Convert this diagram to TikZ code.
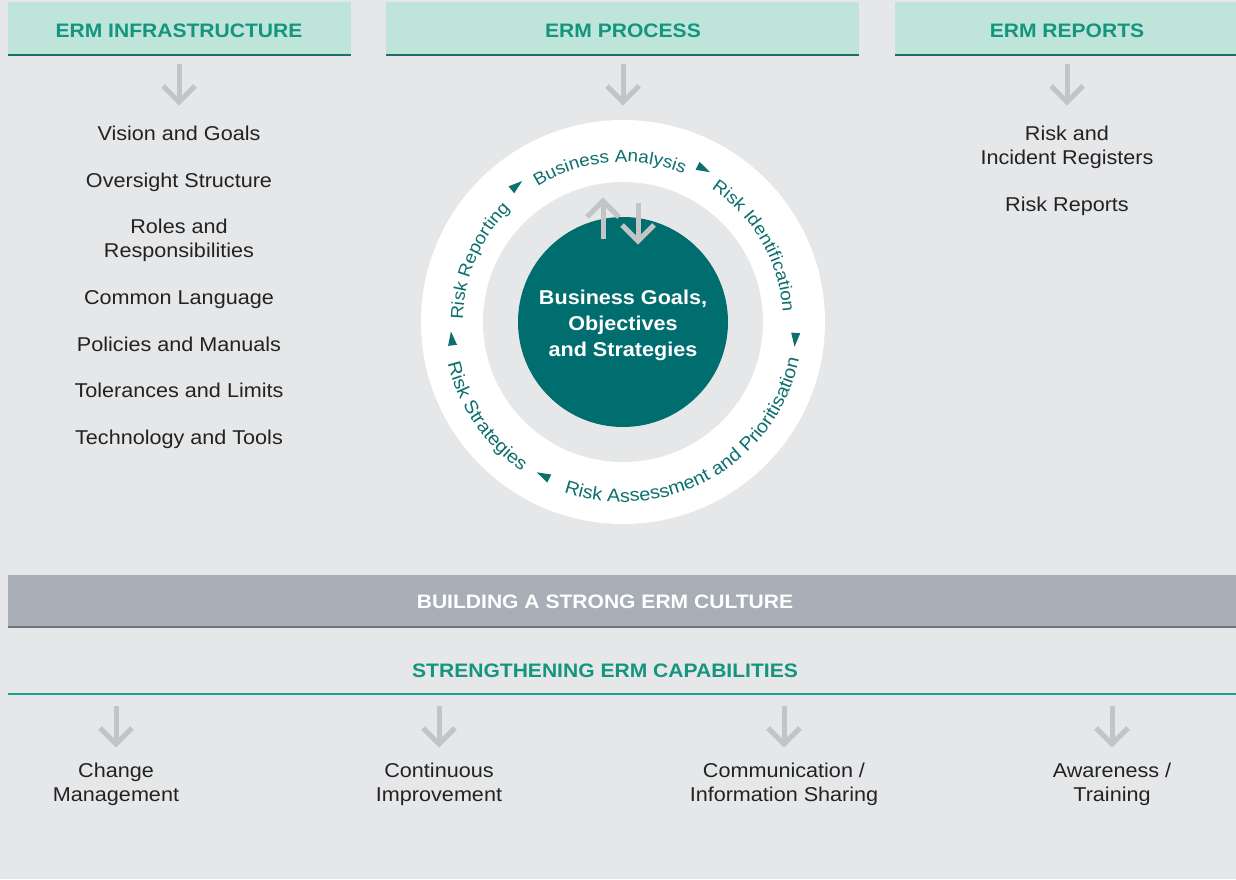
\documentclass[tikz,border=0pt]{standalone}
\usepackage{fontspec}
\setmainfont{Liberation Sans}[FakeStretch=1.08]
\usetikzlibrary{decorations.text,shapes.geometric}
\definecolor{bg}{HTML}{E6E7E9}
\definecolor{mint}{HTML}{BFE4DA}
\definecolor{hteal}{HTML}{13957F}
\definecolor{lineteal}{HTML}{1D6E69}
\definecolor{dteal}{HTML}{006E6E}
\definecolor{rteal}{HTML}{0E6F6F}
\definecolor{agray}{HTML}{C3C4C6}
\definecolor{band}{HTML}{A7AEB5}
\definecolor{bandline}{HTML}{6F757B}
\definecolor{txt}{HTML}{222222}
\definecolor{capline}{HTML}{18A08F}
\newcommand\ringfont{\fontsize{17.5}{20}\selectfont\color{rteal}}
\newcommand\ringfontb{\fontsize{18.4}{20}\selectfont\color{rteal}}
\tikzset{
  hdr/.style={font=\fontsize{19.5}{22}\selectfont\bfseries, text=hteal, inner sep=0pt},
  item/.style={font=\fontsize{20}{24}\selectfont, text=txt, align=center, inner sep=0pt},
  ctext/.style={font=\fontsize{20}{26}\selectfont\bfseries, text=white, align=center, inner sep=0pt},
  bandtext/.style={font=\fontsize{19.5}{22}\selectfont\bfseries, text=white, inner sep=0pt},
  tri/.style={isosceles triangle, isosceles triangle stretches, fill=rteal, inner sep=0pt,
              minimum width=9pt, minimum height=14pt},
  darrow/.pic={
    \draw[agray, line width=5pt] (0,0) -- (0,-38);
    \draw[agray, line width=5pt, line join=miter] (-16,-22) -- (0,-38) -- (16,-22);
  },
  ringtext/.style={decorate, decoration={text along path, text align=center, text={|\ringfont|#1}}},
  ringtextb/.style={decorate, decoration={text along path, text align=center, text={|\ringfontb|#1}}}
}
\begin{document}
\begin{tikzpicture}[x=1pt,y=1pt]
\useasboundingbox (0,0) rectangle (1236,-879);
\fill[bg] (0,0) rectangle (1236,-879);

% headers
\fill[mint] (8,-2) rectangle (351,-55);
\draw[lineteal, line width=1.5pt] (8,-55) -- (351,-55);
\fill[mint] (386,-2) rectangle (859,-55);
\draw[lineteal, line width=1.5pt] (386,-55) -- (859,-55);
\fill[mint] (895,-2) rectangle (1236,-55);
\draw[lineteal, line width=1.5pt] (895,-55) -- (1236,-55);
\node[hdr] (h1) at (179,-31) {ERM INFRASTRUCTURE};
\node[hdr] (h2) at (623,-31) {ERM PROCESS};
\node[hdr] (h3) at (1067,-31) {ERM REPORTS};

% top arrows
\pic at (179,-64) {darrow};
\pic at (623,-64) {darrow};
\pic at (1067,-64) {darrow};

% left list
\node[item] (i1) at (179,-133) {Vision and Goals};
\node[item] (i2) at (179,-182) {Oversight Structure};
\node[item] (i3) at (179,-240) {Roles and\\Responsibilities};
\node[item] (i4) at (179,-300) {Common Language};
\node[item] (i5) at (179,-344) {Policies and Manuals};
\node[item] (i6) at (179,-390) {Tolerances and Limits};
\node[item] (i7) at (179,-439) {Technology and Tools};

% right list
\node[item] (r1) at (1067,-147) {Risk and\\Incident Registers};
\node[item] (r2) at (1067,-206) {Risk Reports};

% process circle
\coordinate (C) at (623,-322);
\fill[white] (C) circle[radius=202pt];
\fill[bg] (C) circle[radius=140pt];
\fill[dteal] (C) circle[radius=105pt];
\node[ctext] (core) at (623,-325) {Business Goals,\\Objectives\\and Strategies};

\pic[rotate=180] at (603,-239) {darrow};
\pic at (638,-203) {darrow};

% ring texts
\path[ringtext={Risk Reporting}] ([shift={(C)}]192:160pt) arc[start angle=192, end angle=122, radius=160pt];
\path[ringtext={Business Analysis}] ([shift={(C)}]135:160pt) arc[start angle=135, end angle=55, radius=160pt];
\path[ringtext={Risk Identification}] ([shift={(C)}]70:160pt) arc[start angle=70, end angle=-10, radius=160pt];
\path[ringtextb={Risk Assessment and Prioritisation}] ([shift={(C)}]230:180pt) arc[start angle=230, end angle=369, radius=180pt];
\path[ringtextb={Risk Strategies}] ([shift={(C)}]180:180pt) arc[start angle=180, end angle=249, radius=180pt];

% ring triangles (pointing clockwise)
\node[tri, rotate=63.4-90] (t1) at ([shift={(C)}]63.4:173pt) {};
\node[tri, rotate=129.1-90] (t2) at ([shift={(C)}]129.1:173pt) {};
\node[tri, rotate=-4.7-90] (t3) at ([shift={(C)}]-4.7:173pt) {};
\node[tri, rotate=186.7-90] (t4) at ([shift={(C)}]186.7:172pt) {};
\node[tri, rotate=243.7-90] (t5) at ([shift={(C)}]243.7:173pt) {};

% culture band
\fill[band] (8,-575) rectangle (1236,-627);
\draw[bandline, line width=1.5pt] (8,-627) -- (1236,-627);
\node[bandtext] (culture) at (605,-602) {BUILDING A STRONG ERM CULTURE};

% capabilities
\node[hdr] (cap) at (605,-671) {STRENGTHENING ERM CAPABILITIES};
\draw[capline, line width=1.5pt] (8,-694) -- (1236,-694);

\pic at (116,-706) {darrow};
\pic at (439,-706) {darrow};
\pic at (784,-706) {darrow};
\pic at (1112,-706) {darrow};

\node[item] (b1) at (116,-784) {Change\\Management};
\node[item] (b2) at (439,-784) {Continuous\\Improvement};
\node[item] (b3) at (784,-784) {Communication /\\Information Sharing};
\node[item] (b4) at (1112,-784) {Awareness /\\Training};
\end{tikzpicture}
\end{document}
